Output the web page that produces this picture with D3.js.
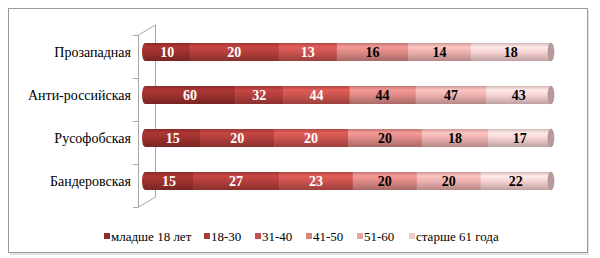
<!DOCTYPE html>
<html>
<head>
<meta charset="utf-8">
<script src="https://cdn.jsdelivr.net/npm/d3@7"></script>
<style>
  body { margin: 0; background: #fff; }
  svg { display: block; }
</style>
</head>
<body>
<div id="graph"></div>
<script>
// categories (top to bottom) and age groups
var categories = ["Прозападная", "Анти-российская", "Русофобская", "Бандеровская"];
var seriesNames = ["младше 18 лет", "18-30", "31-40", "41-50", "51-60", "старше 61 года"];
var seriesColors = ["#9a302d", "#b03e3b", "#c8524e", "#d98784", "#e8aeac", "#f3cfcf"];
var legendColors = ["#8c2d2b", "#a83c3a", "#c25350", "#d9817f", "#e5a6a6", "#efcccc"];

// values per category, in series order
var valuesProzapad = [10, 20, 13, 16, 14, 18];
var valuesAnti = [60, 32, 44, 44, 47, 43];
var valuesRusofob = [15, 20, 20, 20, 18, 17];
var valuesBander = [15, 27, 23, 20, 20, 22];

var rows = [valuesProzapad, valuesAnti, valuesRusofob, valuesBander];

var width = 600;
var height = 258;
var barH = 18;
var serif = "'Liberation Serif', serif";

var svg = d3.select('#graph')
    .append('svg')
    .attr('width', width)
    .attr('height', height);

var defs = svg.append('defs');

// chart frame with light shadow
svg.append('rect')
    .attr('x', 10).attr('y', 10)
    .attr('width', 579).attr('height', 245)
    .attr('fill', '#e4e4e4');
svg.append('rect')
    .attr('x', 8.5).attr('y', 8.5)
    .attr('width', 579).attr('height', 244)
    .attr('fill', '#fff')
    .attr('stroke', '#9a9a9a');

// scales
var y = d3.scaleBand()
    .domain(categories)
    .range([35, 207]);

var x = d3.scaleLinear()
    .domain([0, 1])
    .range([145, 551]);

// 3d wall of the category axis
var dx = 17, dy = -10;
var wall = svg.append('g')
    .attr('stroke', '#a6a6a6')
    .attr('fill', 'none');
wall.append('path')
    .attr('d', 'M138.5,35 L' + (138.5 + dx) + ',' + (35 + dy) +
        ' L' + (138.5 + dx) + ',' + (207 + dy) + ' L138.5,207 Z');
wall.selectAll('.tick')
    .data(categories.concat(['end']))
    .enter()
    .append('line')
    .attr('x1', 133).attr('x2', 138.5)
    .attr('y1', function(d, i) { return 35 + i * y.step() + 0.5; })
    .attr('y2', function(d, i) { return 35 + i * y.step() + 0.5; });

// category labels
svg.append('g').selectAll('.catLabel')
    .data(categories).enter()
    .append('text')
    .attr('x', 131)
    .attr('y', function(d) { return y(d) + y.bandwidth() / 2; })
    .attr('text-anchor', 'end')
    .style('font-family', serif)
    .style('font-size', '14px')
    .attr('fill', '#000')
    .text(function(d) { return d; });

// gradients for the cylinder shading
seriesColors.forEach(function(c, i) {
    var g = defs.append('linearGradient')
        .attr('id', 'grad' + i)
        .attr('x1', 0).attr('y1', 0).attr('x2', 0).attr('y2', 1);
    var base = d3.color(c);
    g.append('stop').attr('offset', '0%').attr('stop-color', base.darker(0.35));
    g.append('stop').attr('offset', '22%').attr('stop-color', base.brighter(0.35));
    g.append('stop').attr('offset', '55%').attr('stop-color', base);
    g.append('stop').attr('offset', '100%').attr('stop-color', base.darker(0.7));
});

// stacked 100% data
var stacked = rows.map(function(vals, r) {
    var total = d3.sum(vals);
    var acc = 0;
    return vals.map(function(v, i) {
        var seg = { row: r, series: i, value: v, x0: acc / total, x1: (acc + v) / total };
        acc += v;
        return seg;
    });
});

var barY = function(r) {
    return y(categories[r]) + y.bandwidth() / 2 - 4.5 - barH / 2;
};

var bars = svg.append('g');

stacked.forEach(function(segs, r) {
    var g = bars.append('g');
    var top = barY(r);

    // left rounded cap
    g.append('ellipse')
        .attr('cx', x(0))
        .attr('cy', top + barH / 2)
        .attr('rx', 3)
        .attr('ry', barH / 2)
        .attr('fill', 'url(#grad0)');

    g.selectAll('rect')
        .data(segs).enter()
        .append('rect')
        .attr('x', function(d) { return x(d.x0); })
        .attr('y', top)
        .attr('width', function(d) { return x(d.x1) - x(d.x0) + 0.5; })
        .attr('height', barH)
        .attr('fill', function(d) { return 'url(#grad' + d.series + ')'; });

    // right end cap
    g.append('ellipse')
        .attr('cx', x(1))
        .attr('cy', top + barH / 2)
        .attr('rx', 3)
        .attr('ry', barH / 2)
        .attr('fill', '#b89a9a')
        .attr('stroke', '#9c8080')
        .attr('stroke-width', 0.5);

    // value labels
    g.selectAll('text')
        .data(segs).enter()
        .append('text')
        .attr('x', function(d) { return (x(d.x0) + x(d.x1)) / 2; })
        .attr('y', top + barH / 2 + 5)
        .attr('text-anchor', 'middle')
        .style('font-family', serif)
        .style('font-weight', 'bold')
        .style('font-size', '14px')
        .attr('fill', function(d) { return d.series < 3 ? '#fff' : '#000'; })
        .text(function(d) { return d.value; });
});

// legend
var legendX = [104, 204, 255, 306, 357, 409];
var legend = svg.append('g').selectAll('.leg')
    .data(seriesNames).enter()
    .append('g')
    .attr('transform', function(d, i) { return 'translate(' + legendX[i] + ',236)'; });

legend.append('rect')
    .attr('x', 0).attr('y', -3)
    .attr('width', 6).attr('height', 6)
    .attr('fill', function(d, i) { return legendColors[i]; });

legend.append('text')
    .attr('x', 7)
    .attr('y', 4.5)
    .style('font-family', serif)
    .style('font-size', '13px')
    .attr('fill', '#000')
    .text(function(d) { return d; });
</script>
</body>
</html>
